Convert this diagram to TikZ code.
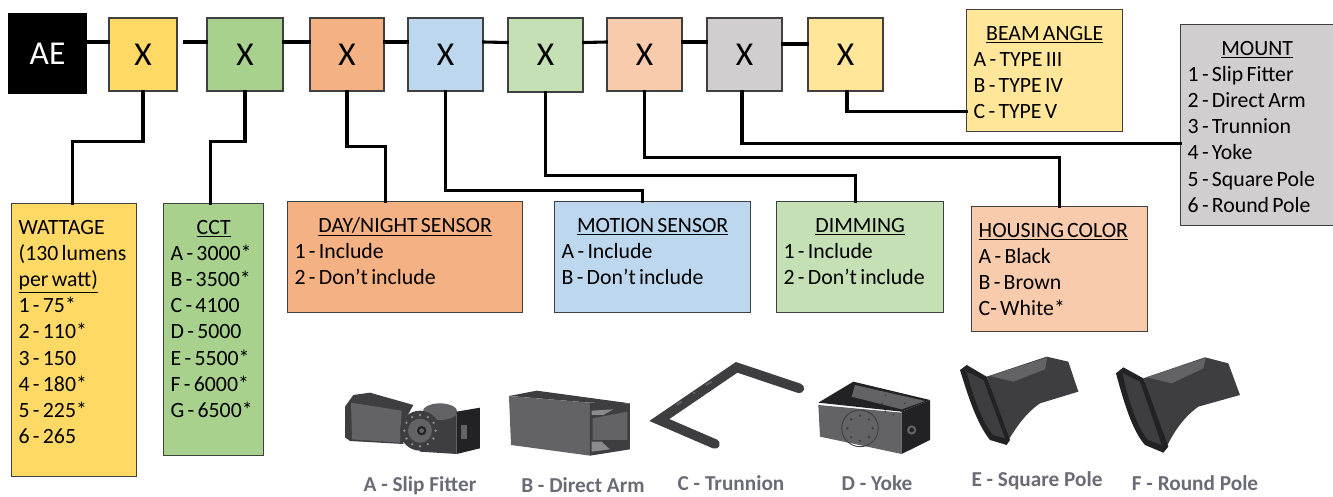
\documentclass[tikz,border=0pt]{standalone}
\usepackage{fontspec}
\setmainfont{Carlito}
\usepackage{tikz}
\usetikzlibrary{positioning,calc}
\definecolor{yellowbox}{HTML}{FFD966}
\definecolor{greenbox}{HTML}{A9D18E}
\definecolor{orangebox}{HTML}{F4B183}
\definecolor{bluebox}{HTML}{BDD7EE}
\definecolor{palegreen}{HTML}{C5E0B4}
\definecolor{paleorange}{HTML}{F8CBAD}
\definecolor{greybox}{HTML}{D0CECE}
\definecolor{paleyellow}{HTML}{FFE699}
\definecolor{edgegrey}{HTML}{404040}
\definecolor{partlabel}{HTML}{6B6B76}
\definecolor{partdark}{HTML}{3E3E40}
\definecolor{partmid}{HTML}{636365}
\definecolor{partblack}{HTML}{222224}
\definecolor{partpale}{HTML}{8A8A8C}

\begin{document}
\begin{tikzpicture}[x=0.02cm, y=-0.02cm,
    wire/.style={line width=1.75pt, line cap=rect, black},
    codebox/.style 2 args={draw=edgegrey, line width=0.8pt, fill=#1, minimum height=1.46cm,
      minimum width=#2, inner sep=0pt, font=\fontsize{19}{22}\selectfont},
    optbox/.style n args={3}{draw=edgegrey, line width=0.8pt, fill=#1, anchor=north west,
      inner xsep=0.14cm, inner ysep=0pt, text width={#2-0.28cm}, align=left,
      text height=0.61cm, text depth=#3, font=\fontsize{12.4}{14.9}\selectfont,
      execute at begin node={\spaceskip=0.15em\relax}},
    partlabel/.style={text=partlabel, inner sep=0pt, font=\fontsize{12.1}{14}\selectfont\bfseries},
    partbody/.style={fill=partmid, draw=none},
    partshade/.style={fill=partdark, draw=none},
    partedge/.style={fill=partblack, draw=none}]
  \useasboundingbox (0,0) rectangle (1333,497);

  % Code boxes
  \node[codebox={black}{1.54cm}, draw=black, text=white, minimum height=1.58cm] (ae) at (47.5,53.5) {AE};
  \node[codebox={yellowbox}{1.36cm}] (x1) at (143,54.5) {X};
  \node[codebox={greenbox}{1.52cm}] (x2) at (245,54.5) {X};
  \node[codebox={orangebox}{1.48cm}] (x3) at (347,54.5) {X};
  \node[codebox={bluebox}{1.5cm}] (x4) at (445.5,54.5) {X};
  \node[codebox={palegreen}{1.5cm}, minimum height=1.48cm] (x5) at (545.5,55) {X};
  \node[codebox={paleorange}{1.5cm}] (x6) at (644.5,54.5) {X};
  \node[codebox={greybox}{1.5cm}] (x7) at (744.5,54.5) {X};
  \node[codebox={paleyellow}{1.5cm}] (x8) at (845.5,54.5) {X};

  % Option boxes
  \node[optbox={yellowbox}{2.5cm}{4.85cm}] (watt) at (11,203) {WATTAGE\\(130 lumens\\\underline{per watt)}\\1 - 75*\\2 - 110*\\3 - 150\\4 - 180*\\5 - 225*\\6 - 265};
  \node[optbox={greenbox}{2cm}{4.43cm}] (cct) at (163,203) {\hfill\underline{CCT}\hfill\null\\A - 3000*\\B - 3500*\\C - 4100\\D - 5000\\E - 5500*\\F - 6000*\\G - 6500*};
  \node[optbox={orangebox}{4.7cm}{1.61cm}] (day) at (287,201) {\hfill\underline{DAY/NIGHT SENSOR}\hfill\null\\1 - Include\\2 - Don’t include};
  \node[optbox={bluebox}{3.92cm}{1.61cm}] (motion) at (554,201) {\hfill\underline{MOTION SENSOR}\hfill\null\\A - Include\\B - Don’t include};
  \node[optbox={palegreen}{3.34cm}{1.61cm}] (dim) at (776,201) {\hfill\underline{DIMMING}\hfill\null\\1 - Include\\2 - Don’t include};
  \node[optbox={paleorange}{3.52cm}{1.89cm}] (house) at (971,206) {\underline{HOUSING COLOR}\\A - Black\\B - Brown\\C- White*};
  \node[optbox={paleyellow}{3.12cm}{1.83cm}] (beam) at (966,9) {\hfill\underline{BEAM ANGLE}\hfill\null\\A - TYPE III\\B - TYPE IV\\C - TYPE V};
  \node[optbox={greybox}{3.06cm}{3.41cm}] (mount) at (1180,24) {\hfill\underline{MOUNT}\hfill\null\\1 - Slip Fitter\\2 - Direct Arm\\3 - Trunnion\\4 - Yoke\\5 - Square Pole\\6 - Round Pole};

  % Links between code boxes
  \draw[wire] ([yshift=0.23cm]ae.east) -- ([yshift=0.25cm]x1.west);
  \draw[wire] ([xshift=0.14cm,yshift=0.25cm]x1.east) -- ([yshift=0.25cm]x2.west);
  \draw[wire] ([yshift=0.25cm]x2.east) -- ([yshift=0.25cm]x3.west);
  \draw[wire] ([yshift=0.25cm]x3.east) -- ([yshift=0.25cm]x4.west);
  \draw[wire] ([yshift=0.25cm]x4.east) -- ([yshift=0.25cm]x5.west);
  \draw[wire] ([yshift=0.25cm]x5.east) -- ([yshift=0.25cm]x6.west);
  \draw[wire] ([yshift=0.25cm]x6.east) -- ([yshift=0.25cm]x7.west);
  \draw[wire] ([yshift=0.21cm]x7.east) -- ([yshift=0.21cm]x8.west);

  % Links down to the option boxes
  \draw[wire] (x1.south) -- ++(0,50) -| ([xshift=-0.04cm]watt.north);
  \draw[wire] (x2.south) -- ++(0,50) -| ([xshift=-0.06cm]cct.north);
  \draw[wire] (x3.south) -- ++(0,55) -| ([xshift=-0.39cm]day.north);
  \draw[wire] (x4.south) -- ++(0,99) -| ([xshift=-0.2cm]motion.north);
  \draw[wire] (x5.south) -- ++(0,83) -| ([xshift=-0.09cm]dim.north);
  \draw[wire] (x6.south) -- ++(0,66) -| (house.north);
  \draw[wire] ([xshift=-0.05cm]x7.south) |- ([yshift=-0.37cm]mount.west);
  \draw[wire] ([xshift=0.03cm]x8.south) |- ([yshift=-0.82cm]beam.west);

  % Mount parts, left three
  \begin{scope}[shift={(340,340)}, x=0.00667cm, y=-0.00667cm]
    % Slip fitter
    \fill[partshade] (15,200) -- (40,165) -- (90,158) -- (220,195) -- (190,250) -- (190,312) -- (30,303) -- (15,292) -- cycle;
    \fill[partbody] (33,188) -- (185,212) -- (180,308) -- (36,298) -- cycle;
    \fill[partshade] (240,215) -- (350,215) -- (350,342) -- (240,335) -- cycle;
    \fill[partbody] (300,215) ellipse (52 and 25);
    \fill[partedge] (350,215) -- (420,203) -- (420,325) -- (350,342) -- cycle;
    \fill[partbody] (362,255) rectangle (382,298);
    \fill[partshade] (240,272) circle (60);
    \fill[partbody] (240,272) circle (36);
    \foreach \a in {0,30,...,330}
      \fill[partpale] ($(240,272)+(\a:47)$) circle (4);
    \fill[partedge] (245,272) circle (14);
    \fill[partbody] (245,272) circle (7);
    % Direct arm
    \fill[partshade] (507,168) -- (590,152) -- (870,190) -- (750,188) -- cycle;
    \fill[partbody] (507,168) -- (750,188) -- (750,347) -- (513,315) -- cycle;
    \fill[partdark] (750,188) -- (870,190) -- (870,328) -- (750,347) -- cycle;
    \fill[partmid] (758,235) -- (862,215) -- (862,300) -- (758,300) -- cycle;
    \fill[partpale] (755,212) -- (820,208) -- (790,225) -- (755,225) -- cycle;
    \fill[partpale] (755,305) -- (785,305) -- (810,328) -- (755,335) -- cycle;
    % Trunnion
    \draw[partdark, line width=5.5pt, line cap=round, line join=miter] (1125,312) -- (958,240) -- (1190,82) -- (1378,145);
    \draw[partmid, line width=1pt] (1010,195) -- (1025,185) (1060,160) -- (1065,157) (1098,135) -- (1115,125);
  \end{scope}

  % Mount parts, right three
  \begin{scope}[shift={(810,340)}, x=0.00667cm, y=-0.00667cm]
    % Yoke
    \fill[partedge] (25,188) -- (130,125) -- (360,180) -- (275,215) -- cycle;
    \fill[partbody] (125,170) -- (135,135) -- (345,183) -- (275,208) -- cycle;
    \fill[partbody] (25,195) -- (275,218) -- (275,342) -- (30,290) -- cycle;
    \fill[partedge] (275,215) -- (360,180) -- (360,300) -- (275,342) -- cycle;
    \foreach \a in {0,45,...,315} {
      \fill[partdark] ($(150,265)+(\a:38)$) circle (4);
      \fill[partdark] ($(250,190)+(\a:34)$) circle (3);
    }
    \draw[partdark, line width=0.5pt] (150,265) circle (55);
    \fill[partbody] (305,270) circle (14);
    \fill[partedge] (305,270) circle (7);
    % Square pole
    \fill[partdark] (530,110) -- (710,50) -- (775,65) -- (805,155) -- (690,190) .. controls (640,225) and (615,270) .. (595,300) -- cycle;
    \fill[partmid] (540,108) -- (712,52) -- (705,88) -- (610,125) -- cycle;
    \fill[partblack] (450,90) -- (470,75) -- (530,110) -- (600,300) -- (590,315) -- (540,300) .. controls (500,250) and (475,170) .. cycle;
    \fill[partdark] (470,95) -- (520,120) -- (585,295) -- (550,285) .. controls (515,245) and (490,170) .. cycle;
    % Round pole
    \fill[partdark] (1000,115) -- (1185,52) -- (1255,70) -- (1290,165) -- (1165,200) .. controls (1110,240) and (1085,290) .. (1065,330) -- cycle;
    \fill[partmid] (1010,112) -- (1187,54) -- (1180,85) -- (1085,130) -- cycle;
    \fill[partblack] (918,100) -- (940,82) -- (1000,115) -- (1075,320) -- (1060,338) -- (1005,315) .. controls (965,270) and (940,180) .. cycle;
    \fill[partdark] (938,100) -- (990,125) -- (1055,315) -- (1015,300) .. controls (980,260) and (955,180) .. cycle;
  \end{scope}

  % Mount labels
  \node[partlabel] (lbla) at (420,486) {A - Slip Fitter};
  \node[partlabel] (lblb) at (583,485) {B - Direct Arm};
  \node[partlabel] (lblc) at (731,483) {C - Trunnion};
  \node[partlabel] (lbld) at (877,483) {D - Yoke};
  \node[partlabel] (lble) at (1037,481) {E - Square Pole};
  \node[partlabel] (lblf) at (1195,483) {F - Round Pole};
\end{tikzpicture}
\end{document}
